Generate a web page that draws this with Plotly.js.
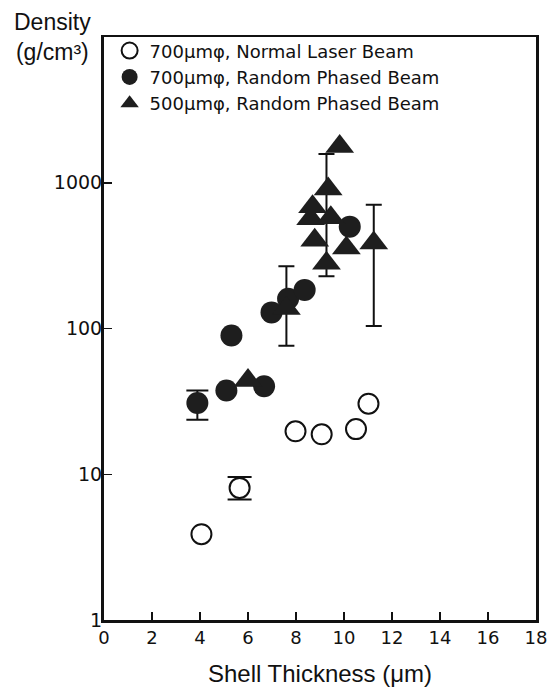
<!DOCTYPE html>
<html>
<head>
<meta charset="utf-8">
<script src="https://cdn.plot.ly/plotly-3.0.1.min.js"></script>
<style>html,body{margin:0;padding:0;background:#fff;}#chart{width:548px;height:687px;}</style>
</head>
<body>
<div id="chart"></div>
<script>
// Series 1: 700μmφ, Normal Laser Beam (open circles)
const normalX = [4.06, 5.65, 7.98, 9.07, 10.50, 11.02];
const normalY = [3.88, 8.06, 19.7, 18.8, 20.4, 30.5];
const normalErrPlus  = [null, 1.52, null, null, null, null];
const normalErrMinus = [null, 1.35, null, null, null, null];

// Series 2: 700μmφ, Random Phased Beam (filled circles)
const rp700X = [3.89, 5.10, 5.31, 6.67, 6.98, 7.67, 8.36, 10.24];
const rp700Y = [30.8, 37.6, 89.6, 40.1, 129, 160, 184, 500];
const rp700ErrPlus  = [6.8, null, null, null, null, null, null, null];
const rp700ErrMinus = [7.1, null, null, null, null, null, null, null];

// Series 3: 500μmφ, Random Phased Beam (filled triangles)
const rp500X = [6.00, 7.60, 8.61, 8.69, 8.78, 9.27, 9.34, 9.45, 9.82, 10.10, 11.24];
const rp500Y = [43.9, 137, 567, 685, 403, 280, 905, 576, 1774, 357, 386];
const rp500ErrPlus  = [null, 130, null, null, null, 1293, null, null, null, null, 321];
const rp500ErrMinus = [null, 61, null, null, null, 52, null, null, null, null, 282];

// Labels
const seriesNames = ['700μmφ, Normal Laser Beam', '700μmφ, Random Phased Beam', '500μmφ, Random Phased Beam'];
const xTickVals = [0, 2, 4, 6, 8, 10, 12, 14, 16, 18];
const yTickVals = [1, 10, 100, 1000];
const yTickText = ['1', '10', '100', '1000'];
const xTitle = 'Shell Thickness (μm)';
const yTitle = 'Density<br>(g/cm³)';

function errTrace(xs, ys, plus, minus, capHalf) {
  const ex = [], ey = [], ep = [], em = [];
  for (let i = 0; i < xs.length; i++) {
    if (plus[i] != null) { ex.push(xs[i]); ey.push(ys[i]); ep.push(plus[i]); em.push(minus[i]); }
  }
  return {
    type: 'scatter', mode: 'markers', x: ex, y: ey, showlegend: false, hoverinfo: 'skip',
    marker: {size: 1, opacity: 0},
    error_y: {type: 'data', symmetric: false, array: ep, arrayminus: em,
              color: '#111', thickness: 2, width: capHalf}
  };
}

const traces = [
  errTrace(normalX, normalY, normalErrPlus, normalErrMinus, 12),
  errTrace(rp700X, rp700Y, rp700ErrPlus, rp700ErrMinus, 11),
  errTrace(rp500X, rp500Y, rp500ErrPlus, rp500ErrMinus, 8),
  {
    type: 'scatter', mode: 'markers', name: seriesNames[0], x: normalX, y: normalY,
    marker: {symbol: 'circle', size: 20, color: '#fff', line: {color: '#111', width: 2}}
  },
  {
    type: 'scatter', mode: 'markers', name: seriesNames[1], x: rp700X, y: rp700Y,
    marker: {symbol: 'circle', size: 22, color: '#1e1e1e', line: {width: 0}}
  },
  {
    type: 'scatter', mode: 'markers', name: seriesNames[2], x: rp500X, y: rp500Y,
    marker: {symbol: 'triangle-up', size: 25, color: '#1e1e1e', line: {width: 0}}
  }
];

const layout = {
  width: 548, height: 687,
  margin: {l: 104, r: 12, t: 37, b: 67, pad: 0},
  paper_bgcolor: '#fff', plot_bgcolor: '#fff',
  font: {family: 'DejaVu Sans, sans-serif', size: 18, color: '#111'},
  showlegend: true,
  legend: {x: 0.013, y: 1.008, xanchor: 'left', yanchor: 'top', bgcolor: 'rgba(0,0,0,0)',
           borderwidth: 0, font: {family: 'DejaVu Sans, sans-serif', size: 18, color: '#111'}},
  xaxis: {
    range: [0, 18], tickmode: 'array', tickvals: xTickVals,
    ticks: 'inside', ticklen: 8, tickwidth: 1.5, tickcolor: '#111',
    showline: true, linecolor: '#111', linewidth: 2.5, mirror: true,
    showgrid: false, zeroline: false,
    tickfont: {family: 'DejaVu Sans, sans-serif', size: 18},
    title: {text: xTitle, font: {family: 'Liberation Sans, Arial, sans-serif', size: 24}, standoff: 20}
  },
  yaxis: {
    type: 'log', range: [0, 4], tickmode: 'array', tickvals: yTickVals, ticktext: yTickText,
    ticks: 'inside', ticklen: 8, tickwidth: 1.5, tickcolor: '#111',
    showline: true, linecolor: '#111', linewidth: 3, mirror: true,
    showgrid: false, zeroline: false, ticklabelstandoff: -5,
    tickfont: {family: 'DejaVu Sans, sans-serif', size: 19}
  },
  annotations: [{
    xref: 'paper', yref: 'paper', x: -0.119, y: 1.0, xanchor: 'center', yanchor: 'middle',
    text: yTitle, showarrow: false, align: 'center',
    font: {family: 'Liberation Sans, Arial, sans-serif', size: 23, color: '#111'}
  }]
};

Plotly.newPlot('chart', traces, layout, {displayModeBar: false, staticPlot: true});
</script>
</body>
</html>
